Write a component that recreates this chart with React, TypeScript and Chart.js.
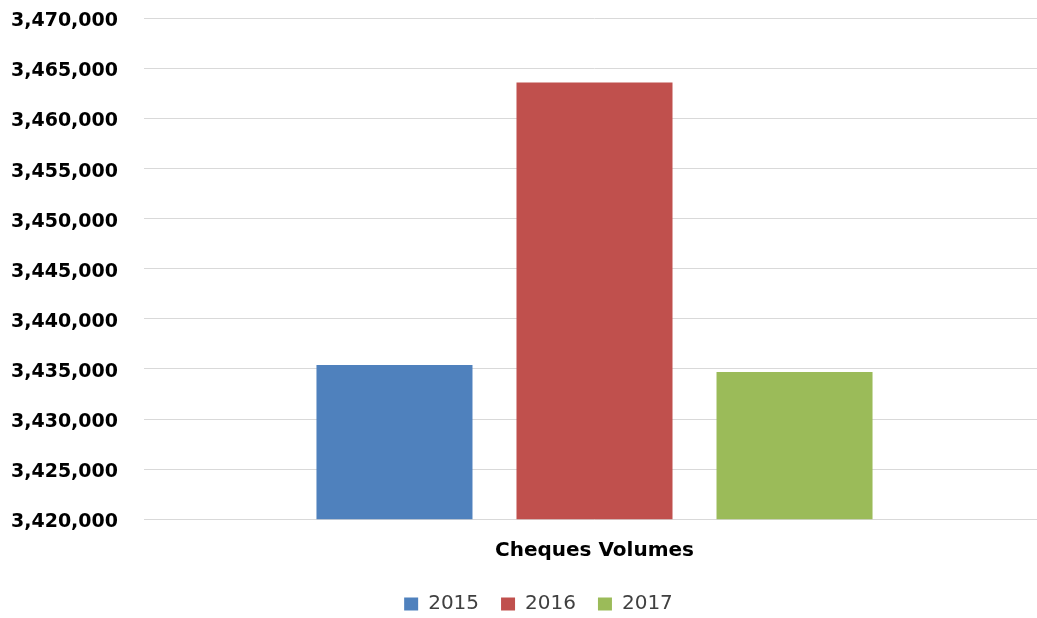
import React, { useEffect, useRef } from "react";
import { Chart, registerables } from "chart.js";

Chart.register(...registerables);

const categories = ["Cheques Volumes"];
const seriesNames = ["2015", "2016", "2017"];
const values2015 = [3435400];
const values2016 = [3463600];
const values2017 = [3434700];
const seriesColors = ["#4F81BD", "#C0504D", "#9BBB59"];
const yMin = 3420000;
const yMax = 3470000;
const yStep = 5000;

const legendShift = {
  id: "legendShift",
  afterLayout(chart: any) {
    const lg = chart.legend;
    if (lg) {
      lg.left += 16;
      lg.right += 16;
    }
  },
};

export default function App() {
  const ref = useRef<HTMLCanvasElement | null>(null);

  useEffect(() => {
    if (!ref.current) return;
    const seriesValues = [values2015, values2016, values2017];
    const chart = new Chart(ref.current, {
      type: "bar",
      data: {
        labels: categories,
        datasets: seriesNames.map((name, i) => ({
          label: name,
          data: seriesValues[i],
          backgroundColor: seriesColors[i],
          borderWidth: 0,
          categoryPercentage: 0.666,
          barPercentage: 0.78,
        })),
      },
      plugins: [legendShift],
      options: {
        responsive: false,
        animation: false,
        devicePixelRatio: 1,
        layout: { padding: { left: 0, top: 18.3, right: 0, bottom: 0 } },
        plugins: {
          tooltip: { enabled: false },
          legend: {
            position: "bottom",
            labels: {
              boxWidth: 14,
              boxHeight: 13,
              padding: 22,
              color: "#404040",
              font: { family: "DejaVu Sans", size: 20 },
            },
          },
        },
        scales: {
          x: {
            grid: { display: false, drawTicks: false },
            border: { display: false },
            ticks: {
              padding: 19,
              color: "#000",
              font: { family: "DejaVu Sans", size: 20, weight: "bold" },
            },
            afterFit: (scale: any) => {
              scale.height = 52.7;
              scale.paddingLeft = 0;
              scale.paddingRight = 0;
            },
          },
          y: {
            min: yMin,
            max: yMax,
            grid: { color: "#d9d9d9", lineWidth: 1, drawTicks: false },
            border: { display: false },
            ticks: {
              stepSize: yStep,
              padding: 26,
              labelOffset: 3,
              color: "#000",
              font: { family: "DejaVu Sans", size: 19, weight: "bold" },
              callback: (v: any) => Number(v).toLocaleString("en-US"),
            },
            afterFit: (scale: any) => {
              scale.width = 144;
              scale.paddingTop = 0;
              scale.paddingBottom = 0;
            },
          },
        },
      },
    });
    return () => chart.destroy();
  }, []);

  return (
    <div
      style={{
        position: "fixed",
        left: 0,
        top: 0,
        width: 1037,
        height: 618,
        overflow: "hidden",
        background: "#fff",
      }}
    >
      <canvas ref={ref} width={1045} height={624} style={{ display: "block" }} />
    </div>
  );
}
